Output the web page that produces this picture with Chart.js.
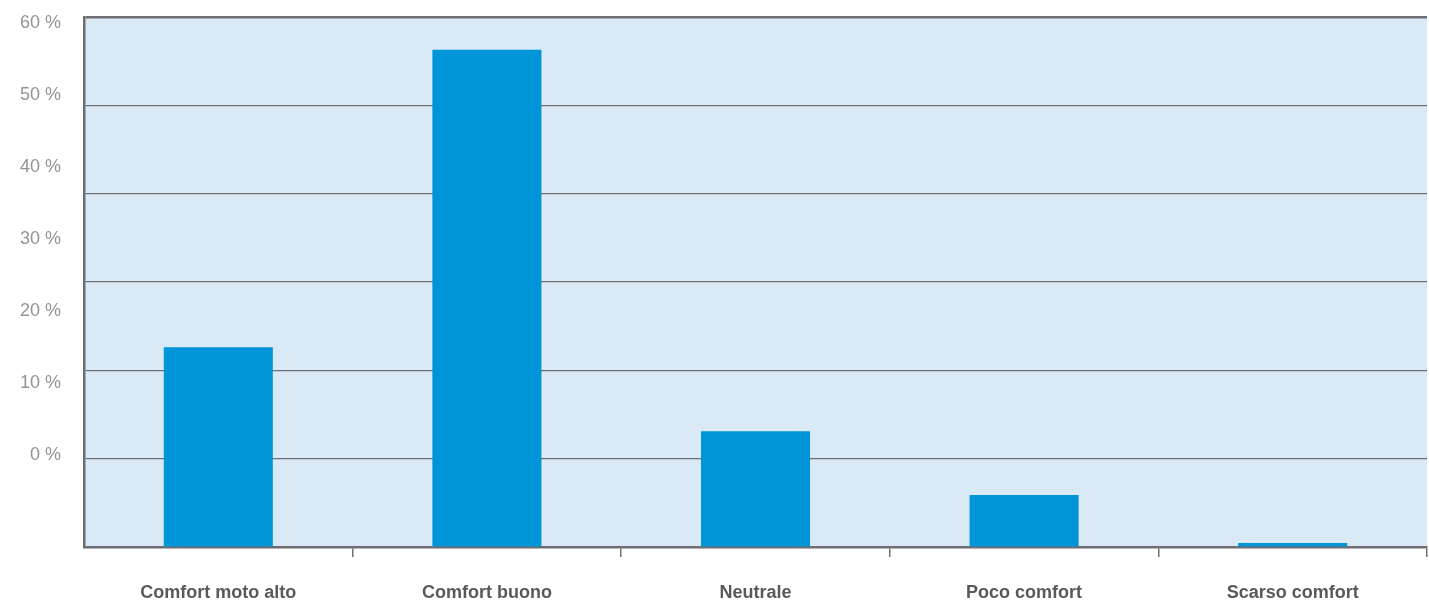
<!DOCTYPE html>
<html>
<head>
<meta charset="utf-8">
<script src="https://cdn.jsdelivr.net/npm/chart.js@4"></script>
<style>
  body { margin: 0; background: #fff; }
  #wrap { width: 1429px; height: 601px; }
</style>
</head>
<body>
<div id="wrap"><canvas id="comfortChart" width="1429" height="601"></canvas></div>
<script>
const categories = [
  "Comfort moto alto",
  "Comfort buono",
  "Neutrale",
  "Poco comfort",
  "Scarso comfort",
];
const shares = [22.6, 56.3, 13.1, 5.9, 0.45];
const gridValues = [0, 10, 20, 30, 40, 50, 60];
const tickLabels = [0, 10, 20, 30, 40, 50, 60];

const lineGray = "#6d6e71";

// plot background
const areaFill = {
  id: "areaFill",
  beforeDraw(chart) {
    const { ctx, chartArea } = chart;
    ctx.save();
    ctx.fillStyle = "#d9e9f5";
    ctx.fillRect(chartArea.left, chartArea.top, chartArea.right - chartArea.left, chartArea.bottom - chartArea.top);
    ctx.restore();
  },
};

function noPad(scale) {
  scale.paddingTop = 0;
  scale.paddingBottom = 0;
  scale.paddingLeft = 0;
  scale.paddingRight = 0;
}

function initChart() {
  const ctx = document.getElementById("comfortChart").getContext("2d");
  new Chart(ctx, {
    type: "bar",
    data: {
      labels: categories,
      datasets: [
        {
          data: shares,
          backgroundColor: "#0094d8",
          borderWidth: 0,
          barPercentage: 0.406,
          categoryPercentage: 1,
        },
      ],
    },
    options: {
      responsive: false,
      animation: false,
      layout: { padding: { top: 17, right: 2, left: 0, bottom: 0 } },
      plugins: {
        legend: { display: false },
        tooltip: { enabled: false },
      },
      scales: {
        x: {
          grid: {
            offset: true,
            drawOnChartArea: false,
            drawTicks: true,
            tickLength: 10,
            color: (c) => (c.index === 0 ? "rgba(0,0,0,0)" : lineGray),
            lineWidth: 1.5,
          },
          border: { display: true, color: lineGray, width: 2.5 },
          ticks: {
            color: "#58595b",
            padding: 25,
            font: { family: "Liberation Sans", size: 18, weight: "bold" },
          },
          afterFit: (scale) => {
            scale.height = 54;
            noPad(scale);
          },
        },
        y: {
          position: "left",
          weight: 0,
          min: 0,
          max: 60,
          afterBuildTicks: (scale) => {
            scale.ticks = gridValues.map((v) => ({ value: v }));
          },
          ticks: { display: false },
          grid: {
            drawTicks: false,
            color: lineGray,
            lineWidth: (c) => (c.tick && c.tick.value === 60 ? 2.5 : 1.2),
          },
          border: { display: true, color: lineGray, width: 2.5 },
          afterFit: (scale) => {
            scale.width = 0;
            noPad(scale);
          },
        },
        yLabels: {
          position: "left",
          weight: 1,
          min: -12.8,
          max: 60.9,
          afterBuildTicks: (scale) => {
            scale.ticks = tickLabels.map((v) => ({ value: v }));
          },
          grid: { display: false, drawTicks: false },
          border: { display: false },
          ticks: {
            color: "#949494",
            padding: 23,
            font: { family: "Liberation Sans", size: 18 },
            callback: (v) => v + " %",
          },
          afterFit: (scale) => {
            scale.width = 84;
            noPad(scale);
          },
        },
      },
    },
    plugins: [areaFill],
  });
}

document.addEventListener("DOMContentLoaded", initChart);
</script>
</body>
</html>
